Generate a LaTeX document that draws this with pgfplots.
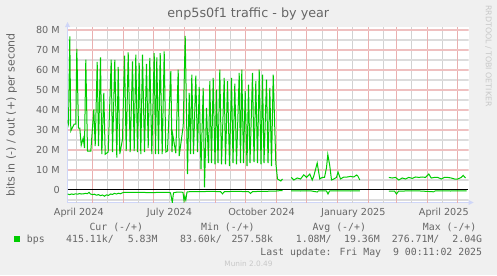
\documentclass[border=0pt]{standalone}
\usepackage{fontspec}
\setmainfont{DejaVu Sans}
\newfontfamily\mono{DejaVu Sans Mono}
\usepackage{pgfplots}
\pgfplotsset{compat=1.18}
\definecolor{bg}{HTML}{F0F0F0}
\definecolor{fontc}{HTML}{666666}
\definecolor{axisc}{HTML}{CFD6F8}
\definecolor{mgreen}{HTML}{00CC00}
\definecolor{mgridc}{HTML}{EAB0B0}
\definecolor{gridc}{HTML}{D2D2D2}
\definecolor{mgridh}{HTML}{EFC0C0}
\definecolor{gridh}{HTML}{DCDCDC}
\definecolor{wm}{HTML}{C8C8C8}
\begin{document}
\begin{tikzpicture}[x=1bp,y=1bp]
\useasboundingbox (0,0) rectangle (497,275);
\fill[bg] (0,0) rectangle (497,275);
\begin{axis}[
  at={(67.5bp,72.5bp)}, anchor=south west,
  scale only axis, width=401bp, height=176bp,
  xmin=67, xmax=468, ymin=-6.25, ymax=81.75,
  axis background/.style={fill=white},
  axis lines*=left,
  axis line style={draw=axisc, line width=1bp},
  xtick={78.3,169,261,352.8,443.3},
  xticklabels={April 2024,July 2024,October 2024,January 2025,April 2025},
  ytick={0,10,...,80},
  yticklabels={0,10 M,20 M,30 M,40 M,50 M,60 M,70 M,80 M},
  grid=none,
  major tick length=0pt,
  tick style={draw=none},
  xticklabel style={font={\fontsize{9.7}{11}\selectfont}, text=fontc, anchor=base, inner sep=0pt, yshift=-13bp},
  yticklabel style={font={\fontsize{9.7}{11}\selectfont}, text=fontc, anchor=east, inner sep=0pt, xshift=-7.5bp},
]
% grid
\pgfplotsinvokeforeach{76,107,138,169,199,230,261,291,322,352,383,411,442}{
  \draw[gridc, line width=1bp] (axis cs:#1,-6.25) -- (axis cs:#1,81.75);}
\pgfplotsinvokeforeach{-5,5,15,25,35,45,55,65,75}{
  \draw[gridh, line width=1.5bp] (axis cs:67,#1) -- (axis cs:468,#1);}
\pgfplotsinvokeforeach{92,123,153,184,215,245,276,306,337,368,396,427,457}{
  \draw[mgridc, line width=1bp] (axis cs:#1,-6.25) -- (axis cs:#1,81.75);}
\pgfplotsinvokeforeach{10,20,30,40,50,60,70,80}{
  \draw[mgridh, line width=1.5bp] (axis cs:67,#1) -- (axis cs:468,#1);}
\draw[black, line width=1bp] (axis cs:67,0.25) -- (axis cs:467,0.25);
% out (+)
\addplot[mgreen, line width=1bp, no marks] coordinates {
(67,35) (68,33) (69.3,76.8) (70.3,29.5) (73.7,33) (75.3,33) (76.3,70.6) (78,31) (79.3,31) (80.7,22.4) (82.7,26) (84,21) (85.3,65.2) (87,19.5) (90.3,19.5) (93.3,40.3) (94.7,22) (96.7,64) (98,22) (100,66.3) (101.3,17.9) (103.3,48.6) (104.7,17.9) (107.7,19) (110.7,65.2) (112,19) (114.3,65) (116.3,16.2) (117.7,61.5) (119.3,18) (122,25.4) (124,67.2) (125.7,19.5) (127.7,68.8) (129.7,19) (132,64.3) (133.7,19.5) (135.3,67.7) (137,19) (138.7,63.5) (140.3,18) (142,67.7) (144,19) (146,63) (147.7,21) (149.3,66) (151.3,18) (153.7,68.4) (155,18) (156.3,66.3) (158,18) (159.7,68.4) (161.7,18) (163.7,69.3) (165.3,19) (167,19.5) (170.3,59.4) (171.5,19) (172.2,27.8) (175.3,18.4) (177.7,60.2) (178.7,17) (182.7,32) (184.7,77.1) (187,8) (188.7,48.6) (190,18) (191.3,57.7) (193,18) (195.3,57.2) (197,19) (198.7,51.5) (200.5,10.4) (202.7,51) (204,1.3) (206,41.1) (208,13.5) (209.3,54.4) (211,13.5) (212.7,56) (214.5,12.8) (216,50.2) (217.5,13.5) (219.3,60.2) (221,12.8) (223.7,56) (225,12.8) (227,54.4) (229,12) (231,56) (232.5,13.5) (234.3,53.2) (236,12.8) (238.7,58.5) (240,13.5) (241.3,60.2) (243,13.5) (244.7,49.4) (246.5,12) (248,52.7) (249.5,13.5) (252,58.5) (253.5,14) (255.3,54.4) (257,13.5) (258.7,60.2) (260.5,12.8) (262,57.7) (263.5,13.5) (266,55.2) (267.5,13.5) (269.3,51) (271,12) (272.7,57.7) (275.3,13.5) (277,5.5) (278.7,5) (280.3,4.5) (282,5.5)
};
\addplot[mgreen, line width=1bp, no marks] coordinates {
(290.7,6.3) (293.3,5) (296.7,6) (300,5.5) (303.3,7.6) (306,6.3) (309.3,8) (311.7,5) (313.3,7) (316.7,13.5) (319.3,5.5) (321.7,6.3) (324,6.3) (326,11.2) (327.3,17.8) (329.3,12) (331,5) (333.3,5.5) (336,6.3) (337.5,9) (340,5.5) (343.3,6.5) (346.7,6.5) (350,6.8) (353.3,6.5) (356,7.5) (357.3,7) (359.3,5)
};
\addplot[mgreen, line width=1bp, no marks] coordinates {
(388.3,6.3) (391.7,6) (395,6.3) (398.3,5) (401.7,6) (405,5.5) (408.3,6.3) (411.7,5.8) (415,6.5) (418.3,6.3) (421.7,6.5) (425,6.3) (428.3,8) (430.7,6) (434,6.3) (437.3,6.3) (440.7,5.5) (444,6.3) (447.3,6.3) (450.7,6) (454,5.5) (457.3,5.5) (460.7,6.3) (462.7,7.3) (465,6)
};
% in (-)
\addplot[mgreen, line width=1bp, no marks] coordinates {
(67,-2) (69,-2.3) (71,-2.0) (73,-2.2) (75,-1.9) (77,-2.1) (79,-1.8) (81,-2.0) (83,-1.9) (85,-1.7) (87,-1.8) (88.5,-1.2) (90,-2.0) (92,-2.3) (94,-2.1) (96,-2.6) (98,-2.3) (100,-2.8) (102,-2.5) (104,-3.1) (106,-2.4) (108,-2.7) (110,-2.0) (112,-2.2) (114,-1.7) (116,-2.0) (118,-1.6) (120,-1.9) (122,-1.4) (123,-1.2) (130,-1.2) (140,-1.2) (150,-1.3) (160,-1.2) (168,-1.2) (170,-1.4) (171.8,-6.2) (173,-1.4) (176,-1.1) (180,-1.0) (182.5,-1.2) (183.5,-5.3) (184.3,-3.2) (185.3,-5) (186.5,-1.0) (190,-0.8) (200,-0.8) (210,-0.7) (220,-0.8) (222,-1.9) (224,-0.8) (235,-0.7) (248,-0.8) (250,-1.7) (252,-0.8) (260,-0.7) (270,-0.6) (275,-0.6) (277,-0.4) (282,-0.3)
};
\addplot[mgreen, line width=1bp, no marks] coordinates {
(290.7,-0.4) (300,-0.5) (310,-0.4) (316.7,-1.0) (318,-0.4) (326,-0.5) (327.5,-2.0) (329,-0.5) (340,-0.4) (350,-0.5) (359.3,-0.4)
};
\addplot[mgreen, line width=1bp, no marks] coordinates {
(388.3,-0.5) (394,-0.6) (396,-2.0) (398,-0.6) (410,-0.4) (420,-0.5) (433,-0.9) (435,-0.4) (450,-0.5) (466,-0.4)
};
\end{axis}
% axis arrows
\fill[axisc] (468.5,75) -- (473.5,72.5) -- (468.5,70) -- cycle;
\fill[axisc] (65,248) -- (67.5,253) -- (70,248) -- cycle;
% title and labels
\node[text=fontc, font={\fontsize{12.8}{14}\selectfont}, anchor=base] at (248.3,257.5) {enp5s0f1 traffic - by year};
\node[text=fontc, font={\fontsize{11}{13}\selectfont}, rotate=90, anchor=base] at (14.5,160.1) {bits in (-) / out (+) per second};
\node[text=wm, font={\fontsize{7.9}{9}\selectfont}, rotate=-90, anchor=center] at (488.3,219) {RRDTOOL / TOBI OETIKER};
% legend
\begin{scope}[every node/.style={text=fontc, font={\mono\fontsize{9.9}{11}\selectfont}, inner sep=0pt}]
\node[anchor=base west] at (89.3,44.3) {Cur (-/+)};
\node[anchor=base west] at (201,44.3) {Min (-/+)};
\node[anchor=base west] at (312.3,44.3) {Avg (-/+)};
\node[anchor=base west] at (422.7,44.3) {Max (-/+)};
\node[anchor=base west] at (26.7,32.3) {bps};
\node[anchor=base west] at (66,32.3) {415.11k/};
\node[anchor=base east] at (157.7,32.3) {5.83M};
\node[anchor=base west] at (180,32.3) {83.60k/};
\node[anchor=base east] at (273.3,32.3) {257.58k};
\node[anchor=base west] at (295.7,32.3) {1.08M/};
\node[anchor=base east] at (380,32.3) {19.36M};
\node[anchor=base west] at (391.7,32.3) {276.71M/};
\node[anchor=base east] at (482.3,32.3) {2.04G};
\node[anchor=base east] at (482.3,20) {Last update: Fri May\ \ 9 00:11:02 2025};
\end{scope}
\fill[mgreen] (13.7,32.8) rectangle (19.7,38.8);
\node[text=wm, font={\fontsize{7.4}{9}\selectfont}, anchor=base, inner sep=0pt] at (248.5,8.3) {Munin 2.0.49};
\end{tikzpicture}
\end{document}
